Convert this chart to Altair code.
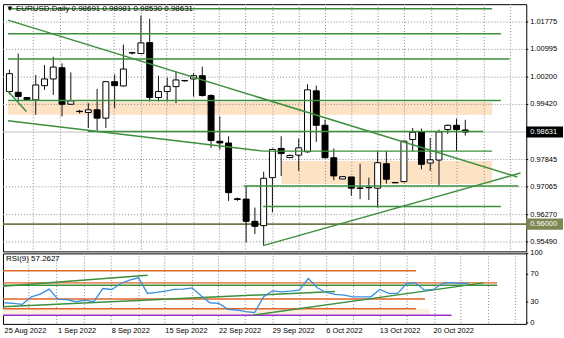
import altair as alt
import pandas as pd

# ---------------- data ----------------
date_labels = ["25 Aug 2022", "1 Sep 2022", "8 Sep 2022", "15 Sep 2022", "22 Sep 2022",
               "29 Sep 2022", "6 Oct 2022", "13 Oct 2022", "20 Oct 2022"]
date_bars = [0, 6, 12, 18, 24, 30, 36, 42, 48]

opens = [0.99789, 0.99767, 0.99617, 0.99551, 0.99957, 1.00148, 1.00469, 0.99426, 0.99225, 0.99191,
         0.99267, 0.99029, 1.00071, 0.99949, 1.00890, 1.00875, 1.01187, 0.99618, 0.99789, 0.99929,
         1.00095, 1.00148, 1.00242, 0.99675, 0.98367, 0.98319, 0.96725, 0.96715, 0.96079, 0.95957,
         0.97328, 0.98163, 0.97901, 0.97972, 0.98066, 0.99808, 0.98824, 0.97896, 0.97291, 0.97348,
         0.97032, 0.97040, 0.97027, 0.97726, 0.97190, 0.97215, 0.98418, 0.98634, 0.97745, 0.97831,
         0.98702, 0.98824, 0.98691]
highs = [1.00413, 1.00875, 0.99631, 1.00261, 1.00545, 1.00781, 1.00591, 1.00335, 0.99267, 0.99455,
         0.99864, 1.00091, 1.00278, 1.01130, 1.00923, 1.01965, 1.01869, 1.00242, 1.00185, 1.00355,
         1.00120, 1.00308, 1.00497, 0.99712, 0.99077, 0.98509, 0.96760, 0.97090, 0.96473, 0.97498,
         0.98162, 0.98512, 0.97986, 0.98446, 0.99996, 0.99959, 0.98986, 0.98163, 0.97363, 0.97348,
         0.97725, 0.97328, 0.98086, 0.98086, 0.97200, 0.98390, 0.98747, 0.98730, 0.98464, 0.98702,
         0.98844, 0.99014, 0.98981]
lows = [0.99704, 0.99503, 0.99546, 0.99125, 0.99835, 0.99693, 0.99077, 0.99409, 0.99162, 0.98745,
        0.98671, 0.98745, 0.99313, 0.99930, 1.00846, 1.00860, 0.99503, 0.99503, 0.99503, 0.99455,
        1.00071, 0.99645, 0.99645, 0.98177, 0.98131, 0.96663, 0.96663, 0.95479, 0.95717, 0.95386,
        0.96340, 0.97377, 0.97887, 0.97518, 0.98038, 0.98350, 0.97879, 0.97254, 0.97285, 0.96809,
        0.96715, 0.96687, 0.96477, 0.97158, 0.97170, 0.97192, 0.98086, 0.97567, 0.97518, 0.97093,
        0.98577, 0.98086, 0.98530]
closes = [1.00299, 0.99645, 0.99560, 0.99977, 1.00148, 1.00488, 0.99426, 0.99523, 0.99215, 0.99267,
          0.99029, 1.00071, 0.99957, 1.00432, 1.00900, 1.01179, 0.99618, 0.99789, 0.99939, 1.00120,
          1.00105, 1.00242, 0.99675, 0.98389, 0.98319, 0.96899, 0.96705, 0.96079, 0.95937, 0.97310,
          0.98134, 0.98015, 0.97964, 0.98180, 0.99837, 0.98824, 0.97896, 0.97377, 0.97357, 0.97027,
          0.97022, 0.97048, 0.97754, 0.97283, 0.97180, 0.98370, 0.98625, 0.97708, 0.97839, 0.98634,
          0.98824, 0.98702, 0.98631]
rsi_values = [29.0, 28.0, 26.7, 37.6, 41.4, 48.6, 33.8, 33.5, 30.5, 32.9, 30.5, 49.5, 48.1, 56.7,
              61.4, 64.8, 42.4, 43.8, 45.7, 48.1, 48.6, 50.5, 39.0, 29.0, 28.1, 19.5, 18.6, 16.2,
              14.8, 37.6, 46.2, 44.8, 45.7, 47.1, 63.8, 50.5, 43.8, 41.0, 40.0, 37.6, 37.6, 37.6,
              48.1, 42.4, 42.4, 56.7, 57.6, 47.1, 48.1, 56.7, 58.1, 56.7, 57.26]

price_ticks = [1.01775, 1.00995, 1.00200, 0.99420, 0.97845, 0.97065, 0.96270, 0.95490]
rsi_ticks = [0, 30, 70, 100]
bid_price = 0.98631
level_price = 0.96000
header_text = "\u25bc EURUSD,Daily  0.98691 0.98981 0.98530 0.98631"
rsi_text = "RSI(9) 57.2627"

# horizontal green lines (price, from bar, to bar)
hl_price = [1.02153, 1.01443, 1.00716, 0.99531, 0.98650, 0.98086, 0.97089, 0.96501]
hl_from = [-0.17, -0.17, -0.17, -0.17, 8.94, 28.94, 26.72, 28.94]
hl_to = [55.06, 56.06, 57.06, 56.06, 54.06, 55.06, 58.06, 56.06]
# trend lines (bar1, price1, bar2, price2)
tl_x1 = [-0.17, -0.17, 28.94, -0.17]
tl_p1 = [1.01829, 0.98953, 0.95386, 0.99800]
tl_x2 = [57.94, 28.94, 58.30, 1.94]
tl_p2 = [0.97348, 0.98086, 0.97462, 0.99219]
# peach zones
zone_x1 = [-0.17, 31.02]
zone_x2 = [55.06, 55.06]
zone_lo = [0.99125, 0.97150]
zone_hi = [0.99490, 0.97802]

# RSI window drawings
rsi_hl_val = [75.0, 57.6, 34.3, 20.4, 11.0, 54.3]
rsi_hl_to = [46.06, 55.13, 47.06, 46.06, 50.02, 55.13]
rsi_hl_col = ["#e0662a", "#e0662a", "#e0662a", "#e0662a", "#9b30d0", "#3d8f3d"]
rsi_tl_x1 = [-0.17, -0.17, 27.87]
rsi_tl_v1 = [52.9, 23.3, 11.4]
rsi_tl_x2 = [16.02, 36.98, 53.60]
rsi_tl_v2 = [68.6, 45.3, 57.6]

grid_bars = [2.72, 5.83, 8.94, 11.94, 15.06, 17.94, 21.06, 23.94, 26.94, 30.06, 33.06, 36.06,
             39.06, 42.06, 45.06, 48.17, 51.06, 54.17, 57.17]

# ---------------- chart ----------------
FONT = "Liberation Sans"
X_DOM = [-0.17, 58.39]
W = 527
H_MAIN = 249
H_RSI = 71
GREEN = "#3d8f3d"
PEACH = "#fde2c4"
GRID = "#8c8c8c"

xs = alt.Scale(domain=X_DOM, nice=False, zero=False)
ys = alt.Scale(domain=[0.95220, 1.02286], nice=False, zero=False)
rs = alt.Scale(domain=[-1.4, 100], nice=False, zero=False)

candles = pd.DataFrame({"i": list(range(len(opens))), "o": opens, "h": highs, "l": lows, "c": closes})
grid_df = pd.DataFrame({"g": grid_bars})
pt_df = pd.DataFrame({"p": price_ticks})
hl_df = pd.DataFrame({"p": hl_price, "a": hl_from, "b": hl_to})
tl_df = pd.DataFrame({"x1": tl_x1, "p1": tl_p1, "x2": tl_x2, "p2": tl_p2})
zone_df = pd.DataFrame({"a": zone_x1, "b": zone_x2, "lo": zone_lo, "hi": zone_hi})

box_half = 0.00158
box_df = pd.DataFrame({
    "p": [bid_price, level_price],
    "top": [bid_price + box_half, level_price + box_half],
    "bot": [bid_price - box_half, level_price - box_half],
    "lab": [f"{bid_price:.5f}", f"{level_price:.5f}"],
    "fill": ["#000000", "#7d8752"],
})


def X(field):
    return alt.X(field, scale=xs, axis=None)


def Y(field):
    return alt.Y(field, scale=ys, axis=None)


zones = alt.Chart(zone_df).mark_rect(color=PEACH, clip=True).encode(
    x=X("a:Q"), x2="b:Q", y=Y("lo:Q"), y2="hi:Q")

vgrid = alt.Chart(grid_df).mark_rule(color=GRID, strokeDash=[1, 2], strokeWidth=1).encode(
    x=X("g:Q"), y=alt.value(0), y2=alt.value(H_MAIN))

hgrid = alt.Chart(pt_df).mark_rule(color=GRID, strokeDash=[1, 2], strokeWidth=1).encode(
    y=Y("p:Q"), x=alt.value(0), x2=alt.value(W))

price_labels = alt.Chart(pt_df).mark_text(font=FONT, fontSize=7.5, color="#000", align="left",
                                         baseline="middle").encode(
    y=Y("p:Q"), x=alt.value(W + 4), text=alt.Text("p:Q", format=".5f"))

price_ticks_mk = alt.Chart(pt_df).mark_rule(color="#000", strokeWidth=1).encode(
    y=Y("p:Q"), x=alt.value(W), x2=alt.value(W + 2))

bidline = alt.Chart(pd.DataFrame({"p": [bid_price]})).mark_rule(color="#c4c4c4", strokeWidth=1).encode(
    y=Y("p:Q"), x=alt.value(0), x2=alt.value(W))

levelline = alt.Chart(pd.DataFrame({"p": [level_price]})).mark_rule(color="#6f7847", strokeWidth=1.6).encode(
    y=Y("p:Q"), x=alt.value(0), x2=alt.value(W))

wicks = alt.Chart(candles).mark_rule(color="#111111", strokeWidth=1, clip=True).encode(
    x=X("i:Q"), y=Y("l:Q"), y2="h:Q")

bodies = alt.Chart(candles).mark_bar(size=6, stroke="#000", strokeWidth=1, clip=True).encode(
    x=X("i:Q"), y=Y("o:Q"), y2="c:Q",
    fill=alt.condition("datum.o > datum.c", alt.value("#000000"), alt.value("#ffffff")))

hlines = alt.Chart(hl_df).mark_rule(color=GREEN, strokeWidth=1.5, clip=True).encode(
    x=X("a:Q"), x2="b:Q", y=Y("p:Q"))

tlines = alt.Chart(tl_df).mark_rule(color=GREEN, strokeWidth=1.5, clip=True).encode(
    x=X("x1:Q"), x2="x2:Q", y=Y("p1:Q"), y2="p2:Q")

boxes = alt.Chart(box_df).mark_rect().encode(
    x=alt.value(W), x2=alt.value(W + 37),
    y=Y("top:Q"), y2="bot:Q",
    fill=alt.Fill("fill:N", scale=None))

box_text = alt.Chart(box_df).mark_text(font=FONT, fontSize=7.5, color="#ffffff", align="left",
                                       baseline="middle").encode(
    x=alt.value(W + 4), y=Y("p:Q"), text="lab:N")

header = alt.Chart(pd.DataFrame({"t": [header_text]})).mark_text(
    font=FONT, fontSize=8, color="#000", align="left", baseline="middle").encode(
    x=alt.value(3), y=alt.value(5), text="t:N")

main = alt.layer(zones, vgrid, hgrid, levelline, bidline, wicks, bodies, hlines, tlines,
                 price_ticks_mk, price_labels, boxes, box_text, header).properties(
    width=W, height=H_MAIN)

# ---------------- RSI panel ----------------
rsi_df = pd.DataFrame({"i": list(range(len(rsi_values))), "r": rsi_values})
rsi_hl_df = pd.DataFrame({"v": rsi_hl_val, "a": [-0.17] * len(rsi_hl_val), "b": rsi_hl_to,
                          "col": rsi_hl_col})
rsi_tl_df = pd.DataFrame({"x1": rsi_tl_x1, "v1": rsi_tl_v1, "x2": rsi_tl_x2, "v2": rsi_tl_v2})
rsi_zone_df = pd.DataFrame({"a": [-0.17], "b": [47.5], "lo": [11.0], "hi": [20.4]})
rt_df = pd.DataFrame({"v": rsi_ticks, "dy": [-3, 0, -2, 4]})
dl_df = pd.DataFrame({"i": date_bars, "lab": date_labels})


def RY(field):
    return alt.Y(field, scale=rs, axis=None)


rsi_grid = alt.Chart(grid_df).mark_rule(color=GRID, strokeDash=[1, 2], strokeWidth=1).encode(
    x=X("g:Q"), y=alt.value(0), y2=alt.value(H_RSI))

rsi_zone = alt.Chart(rsi_zone_df).mark_rect(color="#fcefdf", clip=True).encode(
    x=X("a:Q"), x2="b:Q", y=RY("lo:Q"), y2="hi:Q")

rsi_hl = alt.Chart(rsi_hl_df).mark_rule(strokeWidth=1.5, clip=True).encode(
    x=X("a:Q"), x2="b:Q", y=RY("v:Q"), color=alt.Color("col:N", scale=None))

rsi_tl = alt.Chart(rsi_tl_df).mark_rule(color=GREEN, strokeWidth=1.5, clip=True).encode(
    x=X("x1:Q"), x2="x2:Q", y=RY("v1:Q"), y2="v2:Q")

rsi_line = alt.Chart(rsi_df).mark_line(color="#3a8ee0", strokeWidth=1.3, clip=True).encode(
    x=X("i:Q"), y=RY("r:Q"))

rsi_tick_mk = alt.Chart(rt_df).mark_rule(color="#000", strokeWidth=1).encode(
    y=RY("v:Q"), x=alt.value(W), x2=alt.value(W + 2))

rsi_tick_lab = alt.Chart(rt_df).mark_text(font=FONT, fontSize=7.5, color="#000", align="left",
                                          baseline="middle").encode(
    y=RY("v:Q"), x=alt.value(W + 4), yOffset=alt.YOffset("dy:Q", scale=None), text="v:Q")

date_lab = alt.Chart(dl_df).mark_text(font=FONT, fontSize=7.5, color="#000", align="left",
                                      baseline="top").encode(
    x=X("i:Q"), y=alt.value(H_RSI + 3), text="lab:N")

rsi_label = alt.Chart(pd.DataFrame({"t": [rsi_text]})).mark_text(
    font=FONT, fontSize=8, color="#000", align="left", baseline="middle").encode(
    x=alt.value(3), y=alt.value(6), text="t:N")

rsi_panel = alt.layer(rsi_grid, rsi_zone, rsi_hl, rsi_tl, rsi_line, rsi_tick_mk, rsi_tick_lab,
                      date_lab, rsi_label).properties(width=W, height=H_RSI)

chart = alt.vconcat(main, rsi_panel, spacing=2, bounds="flush").properties(
    padding={"left": 1, "top": 2, "right": 0, "bottom": 0},
    background="#ffffff",
).configure_view(stroke="#000000", strokeWidth=1)

chart.save("out.html", embed_options={"renderer": "svg", "actions": False})
